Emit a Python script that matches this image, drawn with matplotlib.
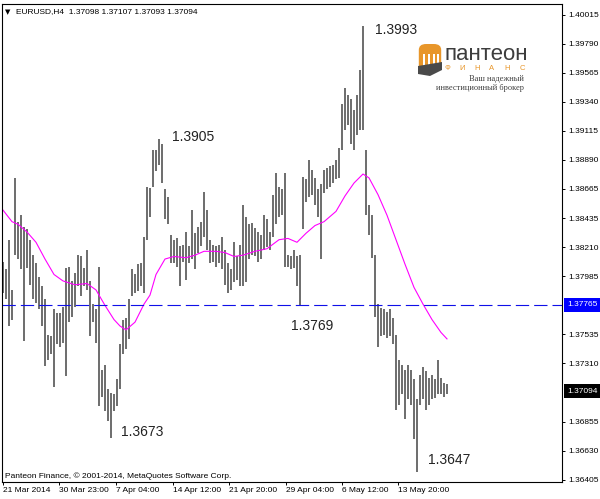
import matplotlib
matplotlib.use('Agg')
import matplotlib.pyplot as plt
import matplotlib.transforms as mtransforms
from matplotlib.patches import FancyBboxPatch, Rectangle, Polygon

# Tahoma is not available, Liberation Sans is the closest narrow sans
plt.rcParams['font.family'] = ['Liberation Sans', 'DejaVu Sans']

# ---- data (one entry per bar) ----
bar_high = [
    1.3810, 1.3804, 1.3827, 1.3788, 1.3875, 1.3841, 1.3846, 1.3837, 1.3835, 1.3827,
    1.3815, 1.3809, 1.3798, 1.3791, 1.3781, 1.3753, 1.3752, 1.3773, 1.3770, 1.3770,
    1.3775, 1.3805, 1.3806, 1.3795, 1.3801, 1.3815, 1.3814, 1.3805, 1.3819, 1.3795,
    1.3777, 1.3773, 1.3806, 1.3726, 1.3730, 1.3711, 1.3708, 1.3707, 1.3719, 1.3746,
    1.3765, 1.3766, 1.3781, 1.3804, 1.3800, 1.3808, 1.3809, 1.3829, 1.3868, 1.3867,
    1.3897, 1.3897, 1.3905, 1.3901, 1.3866, 1.3860, 1.3831, 1.3827, 1.3828, 1.3822,
    1.3823, 1.3833, 1.3822, 1.3850, 1.3832, 1.3837, 1.3841, 1.3864, 1.3850, 1.3827,
    1.3823, 1.3822, 1.3823, 1.3829, 1.3819, 1.3809, 1.3804, 1.3825, 1.3814, 1.3823,
    1.3854, 1.3845, 1.3839, 1.3840, 1.3836, 1.3833, 1.3831, 1.3846, 1.3843, 1.3833,
    1.3862, 1.3879, 1.3868, 1.3866, 1.3879, 1.3815, 1.3814, 1.3819, 1.3814, 1.3815,
    1.3876, 1.3874, 1.3889, 1.3881, 1.3875, 1.3866, 1.3870, 1.3881, 1.3883, 1.3884,
    1.3885, 1.3889, 1.3898, 1.3932, 1.3945, 1.3939, 1.3936, 1.3928, 1.3939, 1.3959,
    1.3993, 1.3897, 1.3854, 1.3846, 1.3815, 1.3777, 1.3774, 1.3773, 1.3771, 1.3773,
    1.3766, 1.3753, 1.3734, 1.3730, 1.3726, 1.3730, 1.3726, 1.3719, 1.3703, 1.3722,
    1.3728, 1.3725, 1.3720, 1.3722, 1.3719, 1.3734, 1.3720, 1.3716, 1.3715,
]
bar_low = [
    1.3786, 1.3781, 1.3760, 1.3765, 1.3815, 1.3812, 1.3804, 1.3748, 1.3805, 1.3792,
    1.3781, 1.3778, 1.3773, 1.3760, 1.3729, 1.3734, 1.3738, 1.3713, 1.3746, 1.3744,
    1.3747, 1.3721, 1.3763, 1.3767, 1.3775, 1.3791, 1.3783, 1.3791, 1.3788, 1.3752,
    1.3763, 1.3747, 1.3698, 1.3705, 1.3694, 1.3686, 1.3673, 1.3694, 1.3698, 1.3711,
    1.3738, 1.3742, 1.3750, 1.3783, 1.3786, 1.3787, 1.3791, 1.3786, 1.3827, 1.3845,
    1.3868, 1.3880, 1.3885, 1.3871, 1.3843, 1.3839, 1.3809, 1.3809, 1.3806, 1.3791,
    1.3810, 1.3796, 1.3809, 1.3812, 1.3804, 1.3817, 1.3822, 1.3829, 1.3819, 1.3809,
    1.3810, 1.3806, 1.3809, 1.3804, 1.3792, 1.3786, 1.3788, 1.3794, 1.3796, 1.3791,
    1.3791, 1.3794, 1.3812, 1.3815, 1.3814, 1.3810, 1.3812, 1.3819, 1.3821, 1.3819,
    1.3829, 1.3839, 1.3845, 1.3846, 1.3806, 1.3806, 1.3804, 1.3805, 1.3791, 1.3776,
    1.3835, 1.3856, 1.3860, 1.3862, 1.3854, 1.3845, 1.3812, 1.3863, 1.3866, 1.3868,
    1.3871, 1.3874, 1.3875, 1.3897, 1.3912, 1.3916, 1.3901, 1.3897, 1.3908, 1.3912,
    1.3912, 1.3846, 1.3831, 1.3813, 1.3767, 1.3744, 1.3752, 1.3753, 1.3751, 1.3752,
    1.3746, 1.3695, 1.3699, 1.3707, 1.3688, 1.3703, 1.3699, 1.3672, 1.3647, 1.3699,
    1.3703, 1.3695, 1.3699, 1.3703, 1.3704, 1.3707, 1.3707, 1.3705, 1.3707,
]

# magenta moving average, read at these bar numbers
ma_bar = [0, 3, 5, 8, 11, 14, 17, 20, 24, 28, 31, 34, 37, 39, 41, 44, 47, 49, 51, 54,
          57, 61, 64, 67, 71, 74, 77, 80, 84, 88, 92, 95, 98, 101, 104, 107, 111, 114,
          117, 120, 122, 125, 128, 131, 134, 137, 140, 143, 146, 148]
ma_value = [1.3850, 1.3841, 1.3839, 1.3833, 1.3825, 1.3812, 1.3800, 1.3795, 1.3792, 1.3793,
            1.3788, 1.3776, 1.3765, 1.3760, 1.3757, 1.3763, 1.3777, 1.3784, 1.3800, 1.3812,
            1.3814, 1.3813, 1.3815, 1.3818, 1.3818, 1.3817, 1.3814, 1.3815, 1.3818, 1.3820,
            1.3827, 1.3828, 1.3825, 1.3832, 1.3838, 1.3841, 1.3849, 1.3861, 1.3871, 1.3878,
            1.3875, 1.3862, 1.3846, 1.3827, 1.3808, 1.3790, 1.3777, 1.3765, 1.3755, 1.3750]

price_ticks = [1.40015, 1.39790, 1.39565, 1.39340, 1.39115, 1.38890, 1.38665, 1.38435,
               1.38210, 1.37985, 1.37535, 1.37310, 1.36855, 1.36630, 1.36405]
price_tick_labels = ['1.40015', '1.39790', '1.39565', '1.39340', '1.39115', '1.38890',
                     '1.38665', '1.38435', '1.38210', '1.37985', '1.37535', '1.37310',
                     '1.36855', '1.36630', '1.36405']
time_tick_labels = ['21 Mar 2014', '30 Mar 23:00', '7 Apr 04:00', '14 Apr 12:00',
                    '21 Apr 20:00', '29 Apr 04:00', '6 May 12:00', '13 May 20:00']

level_price = 1.37765
last_price = 1.37094
header_text = 'EURUSD,H4  1.37098 1.37107 1.37093 1.37094'
note_texts = ['1.3993', '1.3905', '1.3769', '1.3673', '1.3647']
copyright_text = 'Panteon Finance, \u00a9 2001-2014, MetaQuotes Software Corp.'

# ---- layout ----
W, H = 600, 499
fig = plt.figure(figsize=(W / 100, H / 100), dpi=100)
fig.patch.set_facecolor('white')
ax = fig.add_axes([2 / W, 17 / H, 560 / W, 478 / H])

bar_idx = list(range(len(bar_high)))
ax.vlines(bar_idx, bar_low, bar_high, colors='#454545', linewidth=1.1)
ax.plot(ma_bar, ma_value, color='#ff00ff', linewidth=0.8)
ax.axhline(level_price, color='#1010e8', linewidth=0.8, dashes=(12, 4.5))

ax.set_xlim(-1 / 3, -1 / 3 + 560 / 3)
ax.set_ylim(1.36389, 1.40100)

for sp in ax.spines.values():
    sp.set_color('black')
    sp.set_linewidth(0.8)

# price scale on the right
ax.yaxis.tick_right()
ax.set_yticks(price_ticks)
ax.set_yticklabels(price_tick_labels)
ax.tick_params(axis='y', direction='out', length=2.5, width=0.7, pad=2,
               labelsize=6, colors='black')

# time scale, labels start at the tick
time_tick_pos = [0, 18.67, 37.67, 56.67, 75.33, 94.33, 113, 131.67]
ax.set_xticks(time_tick_pos)
ax.set_xticklabels(time_tick_labels)
for lab in ax.get_xticklabels():
    lab.set_horizontalalignment('left')
ax.tick_params(axis='x', direction='out', length=2.5, width=0.7, pad=1,
               labelsize=6, colors='black')

# highlighted labels on the price scale
blend = mtransforms.blended_transform_factory(ax.transAxes, ax.transData)
ax.text(1 + 5 / 560, level_price, f'{level_price:.5f}', transform=blend,
        ha='left', va='center', color='white', fontsize=6,
        bbox=dict(boxstyle='square,pad=0.4', fc='#0000ff', ec='none'), clip_on=False)
ax.text(1 + 5 / 560, last_price, f'{last_price:.5f}', transform=blend,
        ha='left', va='center', color='white', fontsize=6,
        bbox=dict(boxstyle='square,pad=0.4', fc='black', ec='none'), clip_on=False)

# price notes next to the swing points
note_pos = [(124, 1.3990), (56.3, 1.3907), (96, 1.3760), (39.3, 1.3678), (141.7, 1.3656)]
for txt, (nx, ny) in zip(note_texts, note_pos):
    ax.text(nx, ny, txt, ha='left', va='center', fontsize=10, color='#222222')


def fpos(x, y):
    # pixel position (from top-left) to figure fraction
    return x / W, 1 - y / H


# header and copyright
fig.text(*fpos(5, 12), '\u25bc', fontsize=5, ha='left', va='center',
         family=['DejaVu Sans'])
fig.text(*fpos(16, 12), header_text, fontsize=6, ha='left', va='center')
fig.text(*fpos(5, 476), copyright_text, fontsize=6, ha='left', va='center')

# Panteon logo
icon = FancyBboxPatch(fpos(420, 70), 20 / W, 25 / H, boxstyle='round,pad=0.002,rounding_size=0.012',
                      transform=fig.transFigure, fc='#e8962a', ec='none')
fig.add_artist(icon)
for cx in [423, 428, 433, 437]:
    fig.add_artist(Rectangle(fpos(cx, 66), 2 / W, 12 / H, transform=fig.transFigure,
                             fc='white', ec='none'))
fig.add_artist(Polygon([fpos(418, 66), fpos(442, 62), fpos(442, 70), fpos(430, 76),
                        fpos(418, 74)], closed=True, transform=fig.transFigure,
                       fc='#4a4a4a', ec='none'))
fig.text(*fpos(444, 60), '\u043f\u0430\u043d\u0442\u0435\u043e\u043d', fontsize=16,
         ha='left', va='baseline', color='#3d3d3d')
for k, ch in enumerate('\u0424\u0418\u041d\u0410\u041d\u0421'):
    fig.text(*fpos(447 + k * 15, 69), ch, fontsize=5.5, ha='center', va='center',
             color='#e8962a')
fig.text(*fpos(524, 79), '\u0412\u0430\u0448 \u043d\u0430\u0434\u0435\u0436\u043d\u044b\u0439',
         fontsize=6, ha='right', va='center', color='#404040', family=['Liberation Serif'])
fig.text(*fpos(524, 88),
         '\u0438\u043d\u0432\u0435\u0441\u0442\u0438\u0446\u0438\u043e\u043d\u043d\u044b\u0439 '
         '\u0431\u0440\u043e\u043a\u0435\u0440',
         fontsize=6, ha='right', va='center', color='#404040', family=['Liberation Serif'])

fig.savefig('out.png', dpi=100, facecolor='white')
